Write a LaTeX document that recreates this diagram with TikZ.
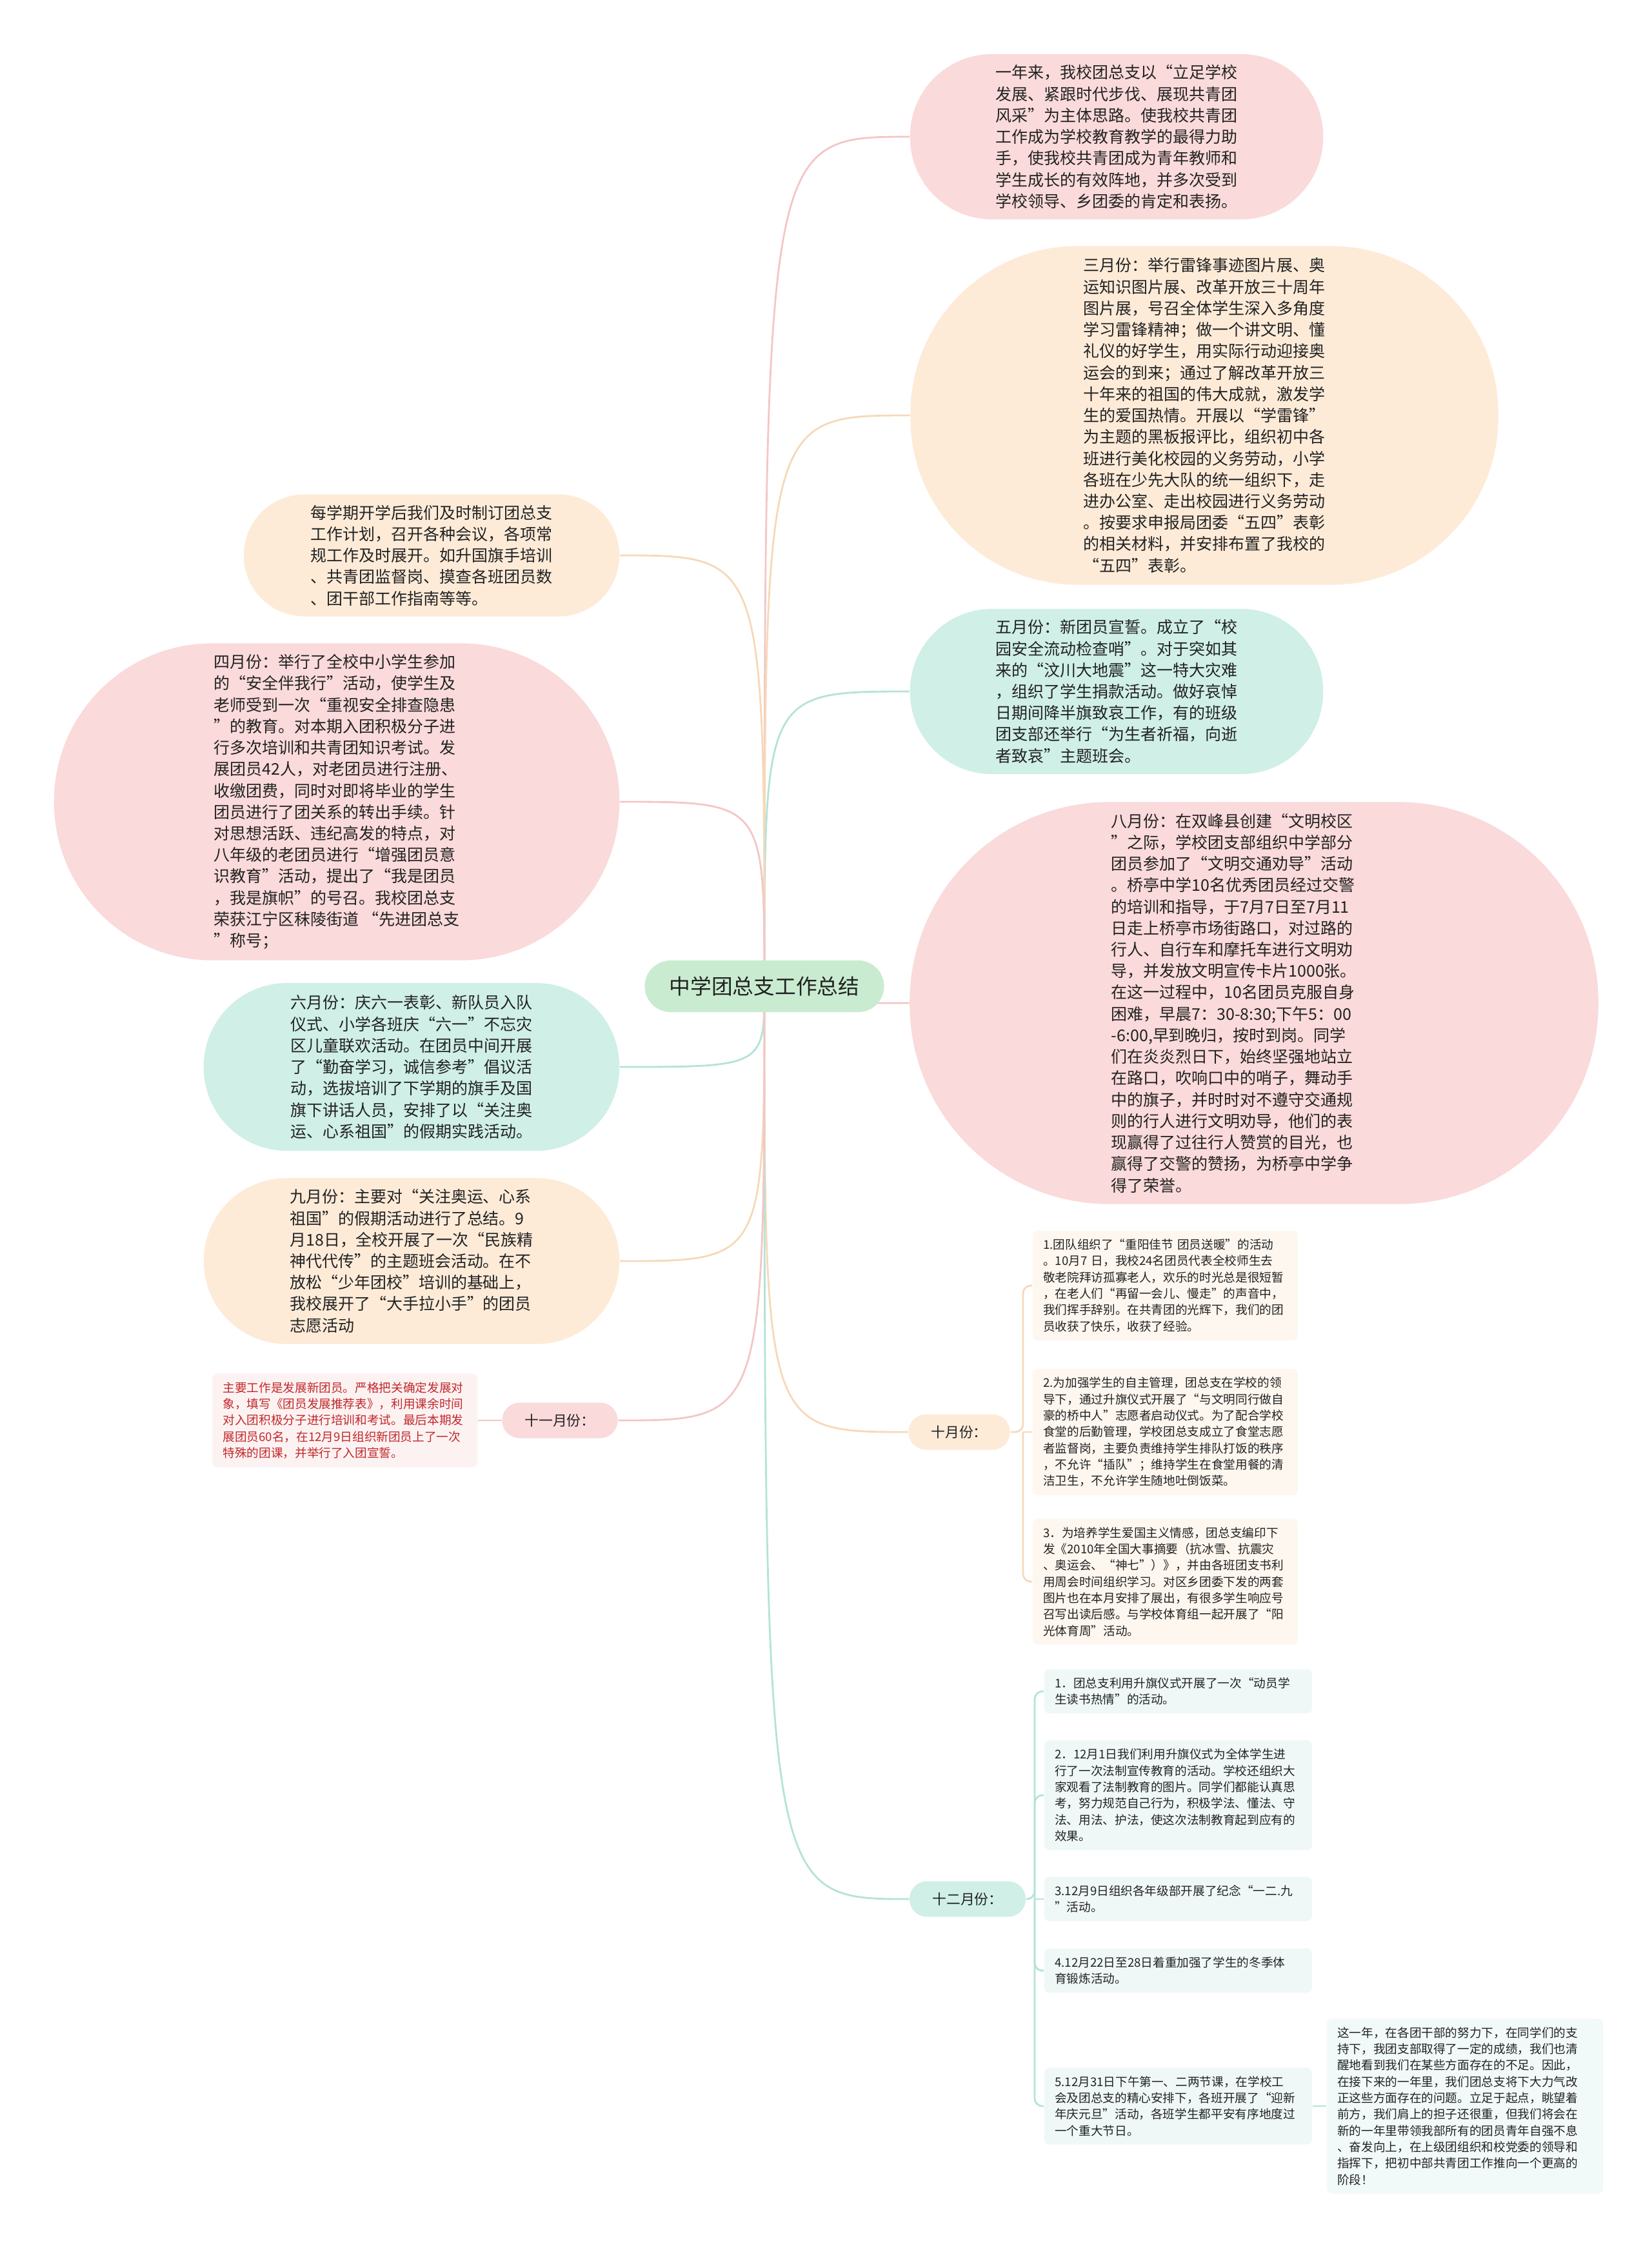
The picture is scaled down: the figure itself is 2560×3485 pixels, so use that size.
\documentclass[tikz,border=0pt]{standalone}
\usepackage{fontspec}
\setmainfont{Noto Sans CJK SC}
\usepackage{tikz}
\usetikzlibrary{backgrounds}

\definecolor{rootbg}{HTML}{C9ECD0}
\definecolor{pinkbg}{HTML}{FADADA}
\definecolor{peachbg}{HTML}{FDEBD8}
\definecolor{mintbg}{HTML}{CFEFE7}
\definecolor{pinkline}{HTML}{F4C6C6}
\definecolor{peachline}{HTML}{F6D9B8}
\definecolor{mintline}{HTML}{B4E3D8}
\definecolor{octleafbg}{HTML}{FDF7F0}
\definecolor{decleafbg}{HTML}{EFF8F7}
\definecolor{novleafbg}{HTML}{FDF2F2}
\definecolor{endleafbg}{HTML}{F2F9F9}
\definecolor{novtext}{HTML}{C0282B}
\definecolor{txt}{HTML}{222222}

\newcommand{\mainfs}{\fontsize{7.1pt}{9.45pt}\selectfont}
\newcommand{\leaffs}{\fontsize{5.3pt}{7.2pt}\selectfont}
\newcommand{\tagfs}{\fontsize{6.2pt}{7.5pt}\selectfont}
\newcommand{\rootfs}{\fontsize{9.3pt}{11pt}\selectfont}

\begin{document}
\begin{tikzpicture}[x=0.01cm, y=0.01cm,
    bubble/.style={align=left, font=\mainfs, text=txt, inner sep=0pt},
    tag/.style={font=\tagfs, text=txt, inner sep=0pt, minimum height=0.55cm, rounded corners=0.27cm},
    leaf/.style={align=left, font=\leaffs, text=txt, inner xsep=0.165cm, inner ysep=0.13cm, rounded corners=0.08cm, anchor=west},
    branch/.style={line width=0.8pt}]

\useasboundingbox (0,0) rectangle (2560,-3485);

% Nodes
\node[fill=rootbg, rounded corners=0.4cm, minimum width=3.71cm, minimum height=0.8cm, font=\rootfs, text=txt, inner sep=0pt] (root) at (1185,-1529) {中学团总支工作总结};

\node[bubble, fill=pinkbg, minimum width=6.4cm, minimum height=2.56cm, rounded corners=1.27cm] (intro) at (1731,-212) {一年来，我校团总支以“立足学校\\发展、紧跟时代步伐、展现共青团\\风采”为主体思路。使我校共青团\\工作成为学校教育教学的最得力助\\手，使我校共青团成为青年教师和\\学生成长的有效阵地，并多次受到\\学校领导、乡团委的肯定和表扬。};

\node[bubble, fill=peachbg, minimum width=9.11cm, minimum height=5.25cm, rounded corners=2.6cm] (march) at (1867,-644) {三月份：举行雷锋事迹图片展、奥\\运知识图片展、改革开放三十周年\\图片展，号召全体学生深入多角度\\学习雷锋精神；做一个讲文明、懂\\礼仪的好学生，用实际行动迎接奥\\运会的到来；通过了解改革开放三\\十年来的祖国的伟大成就，激发学\\生的爱国热情。开展以“学雷锋”\\为主题的黑板报评比，组织初中各\\班进行美化校园的义务劳动，小学\\各班在少先大队的统一组织下，走\\进办公室、走出校园进行义务劳动\\。按要求申报局团委“五四”表彰\\的相关材料，并安排布置了我校的\\“五四”表彰。};

\node[bubble, fill=peachbg, minimum width=5.82cm, minimum height=1.89cm, rounded corners=0.94cm] (plan) at (669,-861) {每学期开学后我们及时制订团总支\\工作计划，召开各种会议，各项常\\规工作及时展开。如升国旗手培训\\、共青团监督岗、摸查各班团员数\\、团干部工作指南等等。};

\node[bubble, fill=pinkbg, minimum width=8.76cm, minimum height=4.91cm, rounded corners=2.45cm] (april) at (522,-1243) {四月份：举行了全校中小学生参加\\的“安全伴我行”活动，使学生及\\老师受到一次“重视安全排查隐患\\”的教育。对本期入团积极分子进\\行多次培训和共青团知识考试。发\\展团员42人，对老团员进行注册、\\收缴团费，同时对即将毕业的学生\\团员进行了团关系的转出手续。针\\对思想活跃、违纪高发的特点，对\\八年级的老团员进行“增强团员意\\识教育”活动，提出了“我是团员\\，我是旗帜”的号召。我校团总支\\荣获江宁区秣陵街道 “先进团总支\\”称号；};

\node[bubble, fill=mintbg, minimum width=6.4cm, minimum height=2.56cm, rounded corners=1.27cm] (may) at (1731,-1072) {五月份：新团员宣誓。成立了“校\\园安全流动检查哨”。对于突如其\\来的“汶川大地震”这一特大灾难\\，组织了学生捐款活动。做好哀悼\\日期间降半旗致哀工作，有的班级\\团支部还举行“为生者祈福，向逝\\者致哀”主题班会。};

\node[bubble, fill=pinkbg, minimum width=10.67cm, minimum height=6.23cm, rounded corners=3.1cm, text width=4.42cm] (august) at (1944,-1555) {八月份：在双峰县创建“文明校区\\”之际，学校团支部组织中学部分\\团员参加了“文明交通劝导”活动\\。桥亭中学10名优秀团员经过交警\\的培训和指导，于7月7日至7月11\\日走上桥亭市场街路口，对过路的\\行人、自行车和摩托车进行文明劝\\导，并发放文明宣传卡片1000张。\\在这一过程中，10名团员克服自身\\困难，早晨7：30-8:30;下午5：00\\-6:00,早到晚归，按时到岗。同学\\们在炎炎烈日下，始终坚强地站立\\在路口，吹响口中的哨子，舞动手\\中的旗子，并时时对不遵守交通规\\则的行人进行文明劝导，他们的表\\现赢得了过往行人赞赏的目光，也\\赢得了交警的赞扬，为桥亭中学争\\得了荣誉。};

\node[bubble, fill=mintbg, minimum width=6.44cm, minimum height=2.6cm, rounded corners=1.29cm] (june) at (638,-1654) {六月份：庆六一表彰、新队员入队\\仪式、小学各班庆“六一”不忘灾\\区儿童联欢活动。在团员中间开展\\了“勤奋学习，诚信参考”倡议活\\动，选拔培训了下学期的旗手及国\\旗下讲话人员，安排了以“关注奥\\运、心系祖国”的假期实践活动。};

\node[bubble, fill=peachbg, minimum width=6.44cm, minimum height=2.57cm, rounded corners=1.28cm] (sept) at (638,-1955) {九月份：主要对“关注奥运、心系\\祖国”的假期活动进行了总结。9\\月18日，全校开展了一次“民族精\\神代代传”的主题班会活动。在不\\放松“少年团校”培训的基础上，\\我校展开了“大手拉小手”的团员\\志愿活动};

% November
\node[tag, fill=pinkbg, minimum width=1.79cm] (nov) at (868,-2202) {十一月份：};
\node[leaf, anchor=east, fill=novleafbg, text=novtext, text width=3.78cm] (novleaf) at (741,-2202) {主要工作是发展新团员。严格把关确定发展对\\象，填写《团员发展推荐表》，利用课余时间\\对入团积极分子进行培训和考试。最后本期发\\展团员60名，在12月9日组织新团员上了一次\\特殊的团课，并举行了入团宣誓。};

% October
\node[tag, fill=peachbg, minimum width=1.57cm] (oct) at (1487,-2220) {十月份：};
\node[leaf, fill=octleafbg, text width=3.78cm] (octa) at (1600,-1993) {1.团队组织了“重阳佳节 团员送暖”的活动\\。10月7 日，我校24名团员代表全校师生去\\敬老院拜访孤寡老人，欢乐的时光总是很短暂\\，在老人们“再留一会儿、慢走”的声音中，\\我们挥手辞别。在共青团的光辉下，我们的团\\员收获了快乐，收获了经验。};
\node[leaf, fill=octleafbg, text width=3.78cm] (octb) at (1600,-2220) {2.为加强学生的自主管理，团总支在学校的领\\导下，通过升旗仪式开展了“与文明同行做自\\豪的桥中人”志愿者启动仪式。为了配合学校\\食堂的后勤管理，学校团总支成立了食堂志愿\\者监督岗，主要负责维持学生排队打饭的秩序\\，不允许“插队”；维持学生在食堂用餐的清\\洁卫生，不允许学生随地吐倒饭菜。};
\node[leaf, fill=octleafbg, text width=3.78cm] (octc) at (1600,-2452) {3．为培养学生爱国主义情感，团总支编印下\\发《2010年全国大事摘要（抗冰雪、抗震灾\\、奥运会、“神七”）》，并由各班团支书利\\用周会时间组织学习。对区乡团委下发的两套\\图片也在本月安排了展出，有很多学生响应号\\召写出读后感。与学校体育组一起开展了“阳\\光体育周”活动。};

% December
\node[tag, fill=mintbg, minimum width=1.8cm] (dec) at (1500,-2944) {十二月份：};
\node[leaf, fill=decleafbg, text width=3.82cm] (deca) at (1618,-2622) {1．团总支利用升旗仪式开展了一次“动员学\\生读书热情”的活动。};
\node[leaf, fill=decleafbg, text width=3.82cm] (decb) at (1618,-2783) {2．12月1日我们利用升旗仪式为全体学生进\\行了一次法制宣传教育的活动。学校还组织大\\家观看了法制教育的图片。同学们都能认真思\\考，努力规范自己行为，积极学法、懂法、守\\法、用法、护法，使这次法制教育起到应有的\\效果。};
\node[leaf, fill=decleafbg, text width=3.82cm] (decc) at (1618,-2944) {3.12月9日组织各年级部开展了纪念“一二.九\\”活动。};
\node[leaf, fill=decleafbg, text width=3.82cm] (decd) at (1618,-3055) {4.12月22日至28日着重加强了学生的冬季体\\育锻炼活动。};
\node[leaf, fill=decleafbg, text width=3.82cm] (dece) at (1618,-3265) {5.12月31日下午第一、二两节课，在学校工\\会及团总支的精心安排下，各班开展了“迎新\\年庆元旦”活动，各班学生都平安有序地度过\\一个重大节日。};
\node[leaf, fill=endleafbg, text width=3.95cm] (closing) at (2056,-3265) {这一年，在各团干部的努力下，在同学们的支\\持下，我团支部取得了一定的成绩，我们也清\\醒地看到我们在某些方面存在的不足。因此，\\在接下来的一年里，我们团总支将下大力气改\\正这些方面存在的问题。立足于起点，眺望着\\前方，我们肩上的担子还很重，但我们将会在\\新的一年里带领我部所有的团员青年自强不息\\、奋发向上，在上级团组织和校党委的领导和\\指挥下，把初中部共青团工作推向一个更高的\\阶段！};

\coordinate (octfork) at (1586,-2220);
\coordinate (decfork) at (1604,-2944);

% Edges
\begin{scope}[on background layer]
\draw[branch, draw=pinkline] (root.center) .. controls (root.center |- intro.west) .. (intro.west);
\draw[branch, draw=peachline] (root.center) .. controls (root.center |- march.west) .. (march.west);
\draw[branch, draw=mintline] (root.center) .. controls (root.center |- may.west) .. (may.west);
\draw[branch, draw=pinkline] (root.center) .. controls (root.center |- august.west) .. (august.west);
\draw[branch, draw=peachline] (root.center) .. controls (root.center |- oct.west) .. (oct.west);
\draw[branch, draw=mintline] (root.center) .. controls (root.center |- dec.west) .. (dec.west);

\draw[branch, draw=peachline] (root.center) .. controls (root.center |- plan.east) .. (plan.east);
\draw[branch, draw=pinkline] (root.center) .. controls (root.center |- april.east) .. (april.east);
\draw[branch, draw=mintline] (root.center) .. controls (root.center |- june.east) .. (june.east);
\draw[branch, draw=peachline] (root.center) .. controls (root.center |- sept.east) .. (sept.east);
\draw[branch, draw=pinkline] (root.center) .. controls (root.center |- nov.east) .. (nov.east);

\draw[branch, draw=pinkline] (nov.west) -- (novleaf.east);

\draw[branch, draw=peachline, rounded corners=0.12cm] (oct.east) -- (octfork) |- (octa.west);
\draw[branch, draw=peachline] (octfork) -- (octb.west);
\draw[branch, draw=peachline, rounded corners=0.12cm] (octfork) |- (octc.west);

\draw[branch, draw=mintline, rounded corners=0.12cm] (dec.east) -- (decfork) |- (deca.west);
\draw[branch, draw=mintline, rounded corners=0.12cm] (decfork) |- (decb.west);
\draw[branch, draw=mintline] (decfork) -- (decc.west);
\draw[branch, draw=mintline, rounded corners=0.12cm] (decfork) |- (decd.west);
\draw[branch, draw=mintline, rounded corners=0.12cm] (decfork) |- (dece.west);

\draw[branch, draw=mintline] (dece.east) -- (closing.west);
\end{scope}
\end{tikzpicture}
\end{document}
